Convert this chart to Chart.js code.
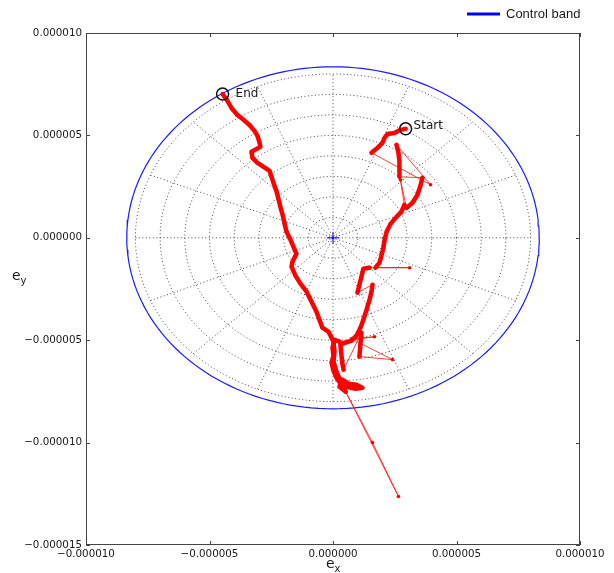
<!DOCTYPE html>
<html>
<head>
<meta charset="utf-8">
<script src="https://cdn.jsdelivr.net/npm/chart.js@4.4.1/dist/chart.umd.min.js"></script>
<style>
  html, body { margin: 0; padding: 0; background: #fff; }
  #wrap { width: 614px; height: 573px; }
</style>
</head>
<body>
<div id="wrap"><canvas id="chart" width="614" height="573"></canvas></div>
<script>
// all values are in units of 1e-6
const UNIT = 1e-6;

// eccentricity trajectory, from Start to End
const exValues = [
  2.94, 2.73, 2.49, 2.21, 2.09, 2.00, 1.80, 1.56, 3.95, 2.57,
  2.65, 2.69, 2.69, 2.69, 3.62, 3.54, 3.42, 3.22, 2.98, 2.73,
  2.89, 2.77, 2.57, 2.33, 2.17, 2.09, 2.04, 1.96, 1.88, 1.72,
  3.10, 1.48, 1.23, 1.15, 1.07, 0.99, 1.60, 1.56, 1.48, 1.36,
  1.23, 1.11, 0.95, 0.75, 0.51, 0.30, 0.34, 0.38, 0.43, 1.15,
  1.11, 1.07, 2.41, 0.75, 1.68, 0.26, 0.06, -0.02, 0.02, -0.06,
  0.02, 0.14, 0.30, 0.55, 0.91, 1.19, 0.95, 0.63, 0.38, 0.26,
  0.51, 1.60, 2.65, 0.51, 0.30, 0.14, 0.02, 0.06, 0.02, -0.18,
  -0.43, -0.55, -0.67, -0.87, -1.07, -1.32, -1.52, -1.68, -1.64, -1.48,
  -1.60, -1.72, -1.88, -1.96, -2.04, -2.13, -2.21, -2.29, -2.41, -2.49,
  -2.57, -2.81, -3.06, -3.26, -3.30, -2.94, -2.98, -3.06, -3.18, -3.38,
  -3.62, -3.87, -4.11, -4.27, -4.47
];
const eyValues = [
  5.32, 5.27, 5.12, 5.07, 4.88, 4.63, 4.39, 4.15, 2.59, 4.54,
  4.15, 3.71, 3.32, 2.98, 2.93, 2.54, 2.10, 1.71, 1.46, 2.83,
  1.61, 1.27, 1.02, 0.68, 0.29, -0.10, -0.49, -0.88, -1.22, -1.46,
  -1.46, -1.46, -1.51, -1.90, -2.29, -2.68, -2.29, -2.63, -3.02, -3.51,
  -4.00, -4.39, -4.78, -5.02, -5.12, -5.22, -5.71, -6.15, -6.44, -4.63,
  -5.22, -5.80, -5.95, -4.93, -4.83, -5.07, -4.98, -5.37, -5.76, -6.10,
  -6.49, -6.83, -7.12, -7.27, -7.37, -7.32, -7.17, -7.12, -6.93, -7.27,
  -7.51, -10.00, -12.63, -7.51, -6.98, -6.54, -6.05, -5.56, -5.07, -4.59,
  -4.39, -4.00, -3.61, -3.12, -2.63, -2.24, -1.85, -1.41, -1.17, -0.78,
  -0.44, -0.10, 0.29, 0.68, 1.12, 1.51, 1.90, 2.29, 2.68, 2.98,
  3.27, 3.46, 3.66, 3.90, 4.20, 4.44, 4.68, 4.98, 5.22, 5.51,
  5.76, 6.00, 6.34, 6.68, 7.02
];

const controlBandRadius = 8.35;
const gridRadii = [1, 2, 3, 4, 5, 6, 7, 8];
const gridAnglesDeg = [0, 22.5, 45, 67.5, 90, 112.5, 135, 157.5];
const xTicks = [-10, -5, 0, 5, 10];
const yTicks = [-15, -10, -5, 0, 5, 10];
const markerLabels = ['Start', 'End'];
const legendLabel = 'Control band';

const TICK_FONT = { family: 'DejaVu Sans', size: 10.3 };
const TEXT_COLOR = '#1a1a1a';

// 원형 좌표 생성 (격자, 제어 밴드)
function circlePoints(r) {
  const pts = [];
  for (let a = 0; a <= 360; a += 2) {
    const t = a * Math.PI / 180;
    pts.push({ x: r * Math.cos(t) * UNIT, y: r * Math.sin(t) * UNIT });
  }
  return pts;
}

function fmtTick(v) {
  const s = Math.abs(v).toFixed(6);
  return (v < -1e-12 ? '\u2212' : '') + s;
}

const track = exValues.map((x, i) => ({ x: x * UNIT, y: eyValues[i] * UNIT }));
const ends = [track[0], track[track.length - 1]];

function segLen(c) {
  return Math.hypot(c.p1.x - c.p0.x, c.p1.y - c.p0.y);
}

const gridStyle = {
  showLine: true, pointRadius: 0, borderWidth: 1, borderDash: [1, 2.5],
  borderColor: 'rgba(0,0,0,0.7)', order: 10
};

const gridSets = gridRadii.map(r => Object.assign({ data: circlePoints(r) }, gridStyle))
  .concat(gridAnglesDeg.map(d => {
    const t = d * Math.PI / 180, R = gridRadii[gridRadii.length - 1];
    return Object.assign({
      data: [
        { x: -R * Math.cos(t) * UNIT, y: -R * Math.sin(t) * UNIT },
        { x: R * Math.cos(t) * UNIT, y: R * Math.sin(t) * UNIT }
      ]
    }, gridStyle);
  }));

const datasets = [
  {
    label: 'markers', data: ends, showLine: false, pointStyle: 'circle',
    pointRadius: 6, pointBorderColor: '#111', pointBorderWidth: 1.5,
    pointBackgroundColor: 'rgba(0,0,0,0)', order: 0
  },
  {
    label: 'track', data: track, showLine: true,
    borderColor: '#ff0000', borderWidth: 4.5,
    borderCapStyle: 'round', borderJoinStyle: 'round',
    pointRadius: 1.8, pointBackgroundColor: '#ff0000', pointBorderWidth: 0,
    segment: {
      borderWidth: c => segLen(c) > 15 ? 1 : 4.5,
      borderColor: c => segLen(c) > 15 ? 'rgba(255,0,0,0.75)' : '#ff0000'
    },
    order: 1
  },
  {
    label: 'center', data: [{ x: 0, y: 0 }], showLine: false,
    pointStyle: 'cross', pointRadius: 6, pointBorderColor: '#0000ff',
    pointBorderWidth: 1, order: 2
  },
  {
    label: legendLabel, data: circlePoints(controlBandRadius), showLine: true,
    borderColor: '#1a1aff', borderWidth: 1.2, pointRadius: 0, order: 3
  }
].concat(gridSets);

// 프레임, 안쪽 눈금, 라벨, 범례
const decorations = {
  id: 'decorations',
  afterDraw(chart) {
    const { ctx, chartArea: a, scales: { x, y } } = chart;
    ctx.save();

    ctx.strokeStyle = '#444';
    ctx.lineWidth = 1;
    ctx.strokeRect(a.left + 0.5, a.top + 0.5, a.right - a.left - 1, a.bottom - a.top - 1);

    ctx.beginPath();
    xTicks.forEach(v => {
      const px = Math.round(x.getPixelForValue(v * UNIT)) + 0.5;
      ctx.moveTo(px, a.top); ctx.lineTo(px, a.top + 4);
      ctx.moveTo(px, a.bottom); ctx.lineTo(px, a.bottom - 4);
    });
    yTicks.forEach(v => {
      const py = Math.round(y.getPixelForValue(v * UNIT)) + 0.5;
      ctx.moveTo(a.left, py); ctx.lineTo(a.left + 4, py);
      ctx.moveTo(a.right, py); ctx.lineTo(a.right - 4, py);
    });
    ctx.stroke();

    // Start / End
    ctx.fillStyle = TEXT_COLOR;
    ctx.font = '12px "DejaVu Sans"';
    ctx.textBaseline = 'middle';
    ctx.textAlign = 'left';
    const offs = [[8, -3], [13, 0]];
    ends.forEach((p, i) => {
      const px = x.getPixelForValue(p.x), py = y.getPixelForValue(p.y);
      ctx.fillText(markerLabels[i], px + offs[i][0], py + offs[i][1]);
    });

    // legend
    ctx.strokeStyle = '#0000ff';
    ctx.lineWidth = 3;
    ctx.beginPath();
    ctx.moveTo(467, 14); ctx.lineTo(500, 14);
    ctx.stroke();
    ctx.font = '13px "Liberation Sans"';
    ctx.fillText(legendLabel, 506, 14);

    // axis titles e_x, e_y
    ctx.textBaseline = 'alphabetic';
    ctx.font = '14px "DejaVu Sans"';
    const ew = ctx.measureText('e').width;
    const cx = (a.left + a.right) / 2;
    ctx.fillText('e', cx - 7, 568);
    ctx.font = '10px "DejaVu Sans"';
    ctx.fillText('x', cx - 7 + ew, 572);
    ctx.font = '14px "DejaVu Sans"';
    ctx.fillText('e', 12, 280);
    ctx.font = '10px "DejaVu Sans"';
    ctx.fillText('y', 12 + ew, 284);

    ctx.restore();
  }
};

new Chart(document.getElementById('chart'), {
  type: 'scatter',
  data: { datasets: datasets },
  options: {
    responsive: false,
    animation: false,
    events: [],
    layout: { padding: { top: 33, right: 34, left: 0, bottom: 0 } },
    plugins: { legend: { display: false }, tooltip: { enabled: false } },
    scales: {
      x: {
        type: 'linear', min: -10 * UNIT, max: 10 * UNIT,
        afterBuildTicks: s => { s.ticks = xTicks.map(v => ({ value: v * UNIT })); },
        afterFit: s => { s.height = 28; },
        grid: { display: false, drawTicks: false },
        border: { display: false },
        ticks: {
          padding: 3, font: TICK_FONT, color: TEXT_COLOR,
          maxRotation: 0, autoSkip: false, callback: v => fmtTick(v)
        }
      },
      y: {
        type: 'linear', min: -15 * UNIT, max: 10 * UNIT,
        afterBuildTicks: s => { s.ticks = yTicks.map(v => ({ value: v * UNIT })); },
        afterFit: s => { s.width = 86; },
        grid: { display: false, drawTicks: false },
        border: { display: false },
        ticks: {
          padding: 4, font: TICK_FONT, color: TEXT_COLOR,
          autoSkip: false, callback: v => fmtTick(v)
        }
      }
    }
  },
  plugins: [decorations]
});
</script>
</body>
</html>
